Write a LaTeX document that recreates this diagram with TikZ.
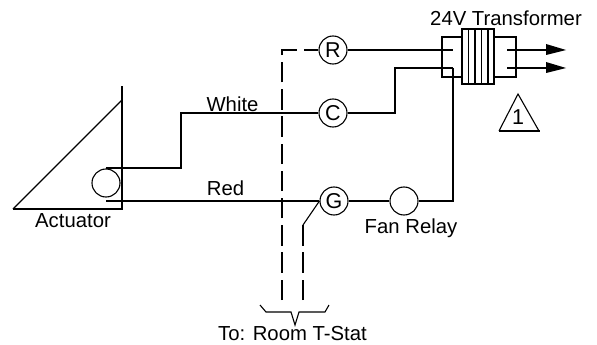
\documentclass[tikz,border=0pt]{standalone}
\usepackage{fontspec}
\setmainfont{Liberation Sans}
\tikzset{
  wire/.style={line width=1.9pt},
  thin line/.style={line width=1.1pt},
  dashwire/.style={line width=1.9pt,dash pattern=on 20.5pt off 6.7pt},
  term/.style={circle,draw,line width=1.1pt,minimum size=28pt,inner sep=0pt,font=\fontsize{21.5}{22}\selectfont},
  lab/.style={inner sep=0pt,font=\fontsize{20.3}{21}\selectfont},
}
\begin{document}
\begin{tikzpicture}[x=1pt,y=-1pt]
\useasboundingbox (0,0) rectangle (597,345);
% actuator
\coordinate (actTop) at (122,86);
\coordinate (actBot) at (122,209);
\coordinate (actDiag) at (122,100);
\coordinate (actLeft) at (13,209);
\draw[wire] (actTop) -- (actBot) -- (actLeft);
\draw[thin line] (actLeft) -- (actDiag);
\node[term] (act) at (106,183) {};
\node[lab] (actLabel) at (73,221) {Actuator};
% terminals
\node[term] (R) at (333,50) {R};
\node[term] (C) at (333,113) {C};
\node[term] (G) at (334,201) {G};
\node[term] (fan) at (404,201) {};
% transformer frames
\coordinate (lbTL) at (442,37);
\coordinate (lbBL) at (442,77);
\coordinate (coilL) at (462,37);
\coordinate (coilLb) at (462,77);
\coordinate (coilR) at (494,37);
\coordinate (coilRb) at (494,77);
\coordinate (rbTR) at (516,37);
\coordinate (rbBR) at (516,77);
\draw[wire] (coilL) -- (lbTL) -- (lbBL) -- (coilLb);
\draw[wire] (coilR) -- (rbTR) -- (rbBR) -- (coilRb);
\draw[wire,fill=white] (462,29) rectangle (494,84);
\foreach \x in {468.5,475,481.5,488} \draw[thin line] (\x,29) -- (\x,84);
% primary wires
\coordinate (p1) at (453,50);
\coordinate (p2) at (453,68);
\coordinate (p3) at (453,201);
\draw[wire] (R) -- (p1);
\coordinate (cUp) at (395,113);
\coordinate (cTop) at (395,68);
\draw[wire] (C) -- (cUp) -- (cTop) -- (p2);
\draw[wire] (p2) -- (p3) -- (fan);
\draw[wire] (fan) -- (G);
% secondary wires with arrows
\coordinate (s1) at (507,50);
\coordinate (s2) at (507,68);
\coordinate (t1) at (566,50);
\coordinate (t2) at (566,68);
\coordinate (a1) at (546,50);
\coordinate (a2) at (546,68);
\draw[wire] (s1) -- (a1);
\draw[wire] (s2) -- (a2);
\fill (546,44) -- (t1) -- (546,55) -- cycle;
\fill (546,62) -- (t2) -- (546,73) -- cycle;
% triangle note
\node[term,draw=none,minimum size=0pt] (note) at (518,117) {1};
\draw[thin line] (539,131) -- (518,94) -- (499,131);
\draw[wire] (498.5,131) -- (539.5,131);
% actuator wires
\coordinate (w1) at (106,168);
\coordinate (w2) at (181,168);
\coordinate (w3) at (181,113);
\coordinate (r1) at (106,201);
\draw[wire] (w1) -- (w2) -- (w3) -- (C);
\draw[wire] (r1) -- (G);
% dashed lines
\coordinate (d1) at (282,300);
\coordinate (d2) at (282,50);
\coordinate (d3) at (303,300);
\coordinate (d4) at (303,225);
\draw[dashwire] (d1) -- (d2) -- (R);
\draw[dashwire] (d3) -- (d4);
\draw[thin line] (d4) -- (G.west);
% brace
\draw[thin line] (260,305) -- (266,312) -- (291,312) -- (295,325) -- (299,312) -- (325,312) -- (329,305);
% labels
\node[lab] (xf) at (506,18) {24V Transformer};
\node[lab] (white) at (232.5,104) {White};
\node[lab] (red) at (225.5,188) {Red};
\node[lab] (fanl) at (411,228) {Fan Relay};
\node[lab] (tstat) at (292.5,334) {To: Room T-Stat};
\end{tikzpicture}
\end{document}
